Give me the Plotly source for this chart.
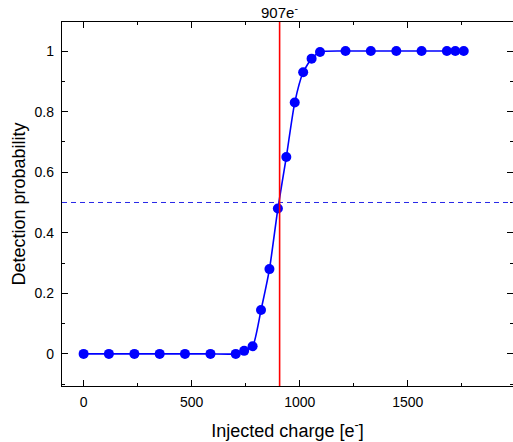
import plotly.graph_objects as go

charge = [0, 117, 235, 352, 469, 587, 704, 743, 782, 821, 860, 899, 938, 977,
          1016, 1055, 1094, 1212, 1329, 1447, 1564, 1681, 1720, 1759]
prob = [0, 0, 0, 0, 0, 0, 0, 0.01, 0.025, 0.145, 0.28, 0.48, 0.65, 0.83,
        0.93, 0.975, 0.997, 1, 1, 1, 1, 1, 1, 1]
threshold = 907
half = 0.5
x_range = [-100, 1987]
y_range = [-0.106, 1.096]

fig = go.Figure()
fig.add_trace(go.Scatter(x=charge, y=prob, mode="lines", line=dict(color="#0000ff", width=1.6, shape="spline", smoothing=0.6),
                         showlegend=False, hoverinfo="skip"))
fig.add_trace(go.Scatter(x=charge, y=prob, mode="markers", marker=dict(color="#0000ff", size=10),
                         showlegend=False))

fig.add_shape(type="line", xref="paper", x0=0, x1=1, yref="y", y0=half, y1=half,
              line=dict(color="#2828e8", width=1, dash="5px,4px"))
fig.add_shape(type="line", xref="x", x0=threshold, x1=threshold, yref="paper", y0=0, y1=1,
              line=dict(color="#ff0000", width=1.6))
fig.add_annotation(x=threshold, xref="x", y=1, yref="paper", yanchor="bottom", yshift=-1,
                   text=f"{threshold}e<sup>-</sup>", showarrow=False,
                   font=dict(family="Liberation Sans, Arial", size=15, color="#000"))

axis_common = dict(showline=True, linecolor="#000", linewidth=1.3, mirror="ticks",
                   ticks="inside", ticklen=6, tickwidth=1, tickcolor="#000",
                   showgrid=False, zeroline=False, automargin=False,
                   tickfont=dict(family="Liberation Sans, Arial", size=14, color="#000"))

fig.update_xaxes(range=x_range, tickvals=[0, 500, 1000, 1500],
                 minor=dict(ticks="inside", ticklen=3, tickwidth=1, tickcolor="#000", dtick=250, tick0=0),
                 title=dict(text="Injected charge [e<sup>-</sup>]", standoff=15,
                            font=dict(family="Liberation Sans, Arial", size=18, color="#000")),
                 ticklabelstandoff=3,
                 **axis_common)
fig.update_yaxes(range=y_range, tickvals=[0, 0.2, 0.4, 0.6, 0.8, 1],
                 ticktext=["0", "0.2", "0.4", "0.6", "0.8", "1"],
                 minor=dict(ticks="inside", ticklen=3, tickwidth=1, tickcolor="#000", dtick=0.1, tick0=0),
                 title=dict(text="Detection probability", standoff=4,
                            font=dict(family="Liberation Sans, Arial", size=18, color="#000")),
                 ticklabelstandoff=4,
                 **axis_common)

fig.update_layout(width=513, height=442, margin=dict(l=62, r=0, t=22, b=56),
                  plot_bgcolor="white", paper_bgcolor="white")

fig.write_html("out.html", config={"displayModeBar": False},
               post_script="document.body.style.margin='0';document.body.style.overflow='hidden';")
